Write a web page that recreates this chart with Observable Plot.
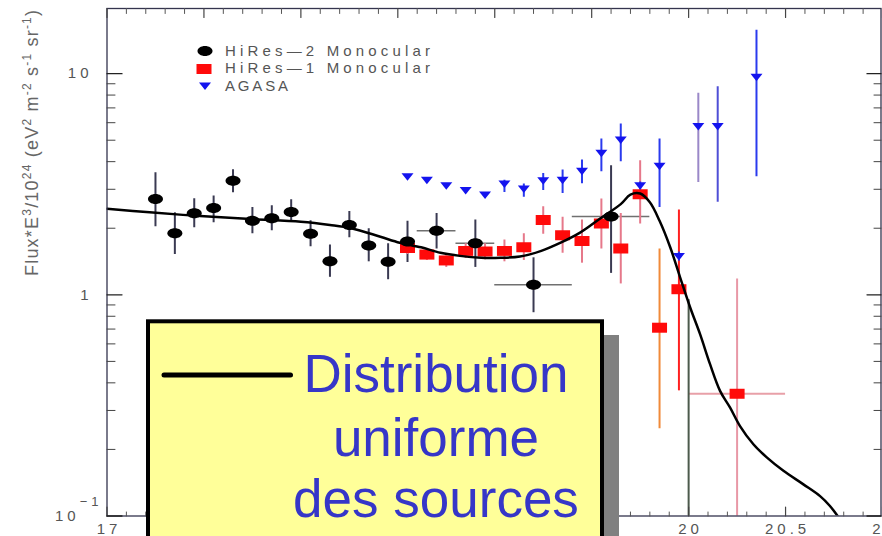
<!DOCTYPE html>
<html>
<head>
<meta charset="utf-8">
<script src="https://cdn.jsdelivr.net/npm/d3@7"></script>
<script src="https://cdn.jsdelivr.net/npm/@observablehq/plot@0.6"></script>
<style>
html, body { margin: 0; padding: 0; background: #fff; }
#chart { position: relative; width: 882px; height: 536px; overflow: hidden; }
#chart svg { display: block; }
</style>
</head>
<body>
<div id="chart"></div>
<script>
// ---------------- Data: x = log10(E/eV), y = Flux*E^3/10^24 ----------------
const hires2E    = [17.25,17.35,17.45,17.55,17.65,17.75,17.85,17.95,18.05,18.15,18.25,18.35,18.45,18.55,18.7,18.9,19.2,19.6,20.0];
const hires2Flux = [2.71,1.90,2.34,2.47,3.28,2.16,2.22,2.37,1.89,1.42,2.07,1.67,1.41,1.74,1.95,1.71,1.11,2.26,0.05];
const hires2Lo   = [2.03,1.52,2.01,2.12,2.89,1.89,1.95,2.15,1.65,1.20,1.81,1.41,1.17,1.40,1.61,1.33,0.83,1.25,0.02];
const hires2Hi   = [3.56,2.35,2.72,2.80,3.68,2.48,2.53,2.69,2.16,1.68,2.38,1.99,1.70,2.15,2.33,2.18,1.47,3.83,0.95];
const hires2ELo  = [null,null,null,null,null,null,null,null,null,null,null,null,null,null,18.6,18.8,19.0,19.4,null];
const hires2EHi  = [null,null,null,null,null,null,null,null,null,null,null,null,null,null,18.8,19.0,19.4,19.8,null];

const hires1E    = [18.55,18.65,18.75,18.85,18.95,19.05,19.15,19.25,19.35,19.45,19.55,19.65,19.75,19.85,19.95,20.25];
const hires1Flux = [1.63,1.52,1.43,1.58,1.57,1.58,1.64,2.18,1.86,1.75,2.10,1.62,2.85,0.71,1.06,0.357];
const hires1Lo   = [1.52,1.43,1.33,1.46,1.44,1.41,1.43,1.88,1.54,1.39,1.61,1.12,2.09,0.248,0.368,0.02];
const hires1Hi   = [1.75,1.61,1.50,1.70,1.70,1.77,1.89,2.50,2.24,2.18,2.71,2.33,4.04,1.61,2.42,1.18];
const hires1ELo  = [null,null,null,null,null,null,null,null,null,null,null,null,null,null,null,20.0];
const hires1EHi  = [null,null,null,null,null,null,null,null,null,null,null,null,null,null,null,20.5];

const agasaE     = [18.55,18.65,18.75,18.85,18.95,19.05,19.15,19.25,19.35,19.45,19.55,19.65,19.75,19.85,19.95,20.05,20.15,20.35];
const agasaFlux  = [3.42,3.30,3.11,2.96,2.83,3.17,3.01,3.28,3.30,3.62,4.36,5.01,3.11,3.81,1.49,5.76,5.76,9.62];
const agasaLo    = [3.36,3.24,3.05,2.91,2.78,2.90,2.76,2.96,2.87,3.18,3.60,4.00,2.98,2.48,1.42,3.22,2.62,3.42];
const agasaHi    = [3.48,3.36,3.17,3.02,2.88,3.30,3.17,3.54,3.67,4.07,5.07,5.92,3.24,5.07,1.56,8.15,8.73,15.7];

const modelE     = [17.0,17.22,17.48,17.74,18.0,18.15,18.26,18.41,18.51,18.62,18.72,18.82,18.93,19.03,19.13,19.24,19.34,19.44,19.54,19.65,19.70,19.75,19.80,19.85,19.905,19.956,20.008,20.059,20.11,20.162,20.214,20.265,20.334,20.403,20.489,20.592,20.678,20.729,20.772];
const modelFlux  = [2.45,2.36,2.27,2.20,2.14,2.07,2.00,1.83,1.72,1.64,1.55,1.50,1.47,1.47,1.49,1.58,1.72,1.91,2.20,2.57,2.84,2.87,2.62,2.16,1.64,1.20,0.876,0.664,0.487,0.368,0.309,0.255,0.211,0.184,0.160,0.139,0.123,0.111,0.099];

const seriesNames = ["HiRes\u20142 Monocular", "HiRes\u20141 Monocular", "AGASA"];
const xTickValues = [17, 17.5, 18, 18.5, 19, 19.5, 20, 20.5, 21];
const xLabelValues = [17, 20, 20.5, 21];   // the others sit under the overlay box
const yTickValues = [0.1, 1, 10];
const yMinorValues = [0.2,0.3,0.4,0.5,0.6,0.7,0.8,0.9,2,3,4,5,6,7,8,9];
const yTitleParts = [["Flux*E",0],["3",1],["/10",0],["24",1],[" (eV",0],["2",1],[" m",0],["-2",1],[" s",0],["-1",1],[" sr",0],["-1",1],[")",0]];
const boxLines = ["Distribution", "uniforme", "des sources"];

// ---------------- Tables ----------------
const h2 = hires2E.map((e,i)=>({e, f:hires2Flux[i], lo:hires2Lo[i], hi:hires2Hi[i], e1:hires2ELo[i], e2:hires2EHi[i], i}));
const h1 = hires1E.map((e,i)=>({e, f:hires1Flux[i], lo:hires1Lo[i], hi:hires1Hi[i], e1:hires1ELo[i], e2:hires1EHi[i], i}));
const ag = agasaE.map((e,i)=>({e, f:agasaFlux[i], lo:agasaLo[i], hi:agasaHi[i], i}));
const model = modelE.map((e,i)=>({e, f:modelFlux[i]}));
const xMinor = d3.range(171, 210).map(v=>v/10).filter(v=>!xTickValues.includes(v));

// ---------------- Symbols ----------------
const ellipseSym = {draw(c){const rx=7.5, ry=5, kx=rx*0.5523, ky=ry*0.5523;
  c.moveTo(rx,0); c.bezierCurveTo(rx,ky,kx,ry,0,ry); c.bezierCurveTo(-kx,ry,-rx,ky,-rx,0);
  c.bezierCurveTo(-rx,-ky,-kx,-ry,0,-ry); c.bezierCurveTo(kx,-ry,rx,-ky,rx,0); c.closePath();}};
const squareSym = {draw(c){c.rect(-7.5,-5,15,10);}};
const triSym = {draw(c){c.moveTo(-6,-3.5); c.lineTo(6,-3.5); c.lineTo(0,4); c.closePath();}};
const tickShape = {draw(c, l){c.moveTo(0,0); c.lineTo(0,-l);}};

const redErr = (d)=> d.i===13 ? "#f08a3a" : d.i===14 ? "#ff2020" : d.i===15 ? "#e898a6" : "#e6788a";
const blueErr = (d)=> d.i===15 ? "#9a88c8" : d.i===16 ? "#4e4ed6" : "#2a3aee";
const blackErr = (d)=> d.i===18 ? "#4c5a4c" : "#3a3a52";

const plot = Plot.plot({
  width: 882, height: 536,
  marginLeft: 106.5, marginRight: 0, marginTop: 8, marginBottom: 20.5,
  x: {domain: [17, 21], label: null},
  y: {type: "log", domain: [0.1, 19.7], label: null},
  style: {fontFamily: "'Liberation Sans', Arial, sans-serif", fontSize: "15px", background: "#fff", color: "#555"},
  marks: [
    // horizontal error bars
    Plot.ruleY(h2.filter(d=>d.e1!=null), {y:"f", x1:"e1", x2:"e2", stroke:"#707070", strokeWidth:1.5, clip:true}),
    Plot.ruleY(h1.filter(d=>d.e1!=null), {y:"f", x1:"e1", x2:"e2", stroke:"#e8a0a8", strokeWidth:2, clip:true}),
    // vertical error bars
    Plot.ruleX(h2, {x:"e", y1:"lo", y2:"hi", stroke:blackErr, strokeWidth:2, clip:true}),
    Plot.ruleX(h1, {x:"e", y1:"lo", y2:"hi", stroke:redErr, strokeWidth:2, clip:true}),
    Plot.ruleX(ag, {x:"e", y1:"lo", y2:"hi", stroke:blueErr, strokeWidth:2, clip:true}),
    // points
    Plot.dot(h1, {x:"e", y:"f", symbol:squareSym, r:5, fill:"#ff0a0a", clip:true}),
    Plot.dot(h2, {x:"e", y:"f", symbol:ellipseSym, r:5, fill:"#000", clip:true}),
    Plot.dot(ag, {x:"e", y:"f", symbol:triSym, r:5, fill:"#1414ee", clip:true}),
    // model curve
    Plot.line(model, {x:"e", y:"f", stroke:"#000", strokeWidth:2.5, curve:"catmull-rom", clip:true}),
    // frame and ticks
    Plot.frame({stroke:"#34344e", strokeWidth:1.3, insetRight:1.5}),
    Plot.vector(xMinor, {x:d=>d, frameAnchor:"bottom", length:4, rotate:0, anchor:"start", shape:tickShape, stroke:"#555", strokeWidth:1}),
    Plot.vector(xTickValues, {x:d=>d, frameAnchor:"bottom", length:9, rotate:0, anchor:"start", shape:tickShape, stroke:"#444", strokeWidth:1.2}),
    Plot.vector(xMinor, {x:d=>d, frameAnchor:"top", length:5, rotate:180, anchor:"start", shape:tickShape, stroke:"#555", strokeWidth:1}),
    Plot.vector(xTickValues, {x:d=>d, frameAnchor:"top", length:9, rotate:180, anchor:"start", shape:tickShape, stroke:"#444", strokeWidth:1.2}),
    Plot.vector(yMinorValues, {y:d=>d, frameAnchor:"left", length:8, rotate:90, anchor:"start", shape:tickShape, stroke:"#444", strokeWidth:1}),
    Plot.vector(yTickValues, {y:d=>d, frameAnchor:"left", length:15, rotate:90, anchor:"start", shape:tickShape, stroke:"#222", strokeWidth:1.3}),
    Plot.vector(yMinorValues, {y:d=>d, frameAnchor:"right", dx:-1.5, length:7, rotate:-90, anchor:"start", shape:tickShape, stroke:"#444", strokeWidth:1}),
    Plot.vector(yTickValues, {y:d=>d, frameAnchor:"right", dx:-1.5, length:14, rotate:-90, anchor:"start", shape:tickShape, stroke:"#222", strokeWidth:1.3}),
    // axes (labels only)
    Plot.axisX({anchor:"bottom", ticks:xLabelValues, tickSize:0, tickPadding:7, tickFormat:d=>String(d), label:null, fontSize:15, color:"#555", dx:2}),
    Plot.axisY({anchor:"left", ticks:yTickValues, tickSize:0, tickPadding:14.5, tickFormat:d=>String(d), label:null, fontSize:15, color:"#555"})
  ]
});
document.getElementById("chart").append(plot);
const svg = d3.select(plot);

// spaced-out tick labels like the original
svg.selectAll("text").attr("letter-spacing", 4);
svg.selectAll("text").each(function(){
  if (this.textContent === "0.1") {
    const t = d3.select(this);
    t.text("").attr("dx", 10);
    t.append("tspan").text("10");
    t.append("tspan").attr("dy", -15).attr("font-size", 13).text("\u22121");
  }
});

// y axis title
const yt = svg.append("text")
  .attr("transform", "translate(38,143) rotate(-90)")
  .attr("text-anchor", "middle").attr("font-size", 18).attr("fill", "#666")
  .attr("textLength", 266).attr("lengthAdjust", "spacing");
let up = 0;
yTitleParts.forEach(([s, sup]) => {
  const dy = sup ? (up ? 0 : -7) : (up ? 7 : 0);
  up = sup;
  yt.append("tspan").attr("dy", dy).attr("font-size", sup ? 12 : 18).text(s);
});

// legend
const legendSyms = [[ellipseSym, "#000", 205, 51, 55.7, 205], [squareSym, "#ff0a0a", 204, 69, 73.3, 205], [triSym, "#1414ee", 205, 86, 90.7, 63]];
seriesNames.forEach((name, i) => {
  const [sym, fill, cx, cy, by, len] = legendSyms[i];
  svg.append("path").attr("d", d3.symbol(sym)()).attr("fill", fill).attr("transform", `translate(${cx},${cy})`);
  svg.append("text").attr("x", 225).attr("y", by).attr("font-size", 15).attr("fill", "#555")
    .attr("text-anchor", "start")
    .attr("textLength", len).attr("lengthAdjust", "spacing").text(name);
});

// overlay box
const box = svg.append("g");
box.append("rect").attr("x", 161).attr("y", 335).attr("width", 458).attr("height", 300).attr("fill", "#808080");
box.append("rect").attr("x", 148).attr("y", 321.3).attr("width", 454).attr("height", 300)
  .attr("fill", "#ffff99").attr("stroke", "#000").attr("stroke-width", 4);
box.append("line").attr("x1", 164).attr("x2", 290.5).attr("y1", 375).attr("y2", 375)
  .attr("stroke", "#000").attr("stroke-width", 5).attr("stroke-linecap", "round");
const baselines = [391.7, 455.7, 517.3];
boxLines.forEach((s, i) => {
  box.append("text").attr("x", 436).attr("y", baselines[i]).attr("text-anchor", "middle")
    .attr("font-family", "'Liberation Sans', Arial, sans-serif").attr("font-size", 53)
    .attr("fill", "#3636c8").attr("letter-spacing", 0).text(s);
});
</script>
</body>
</html>
